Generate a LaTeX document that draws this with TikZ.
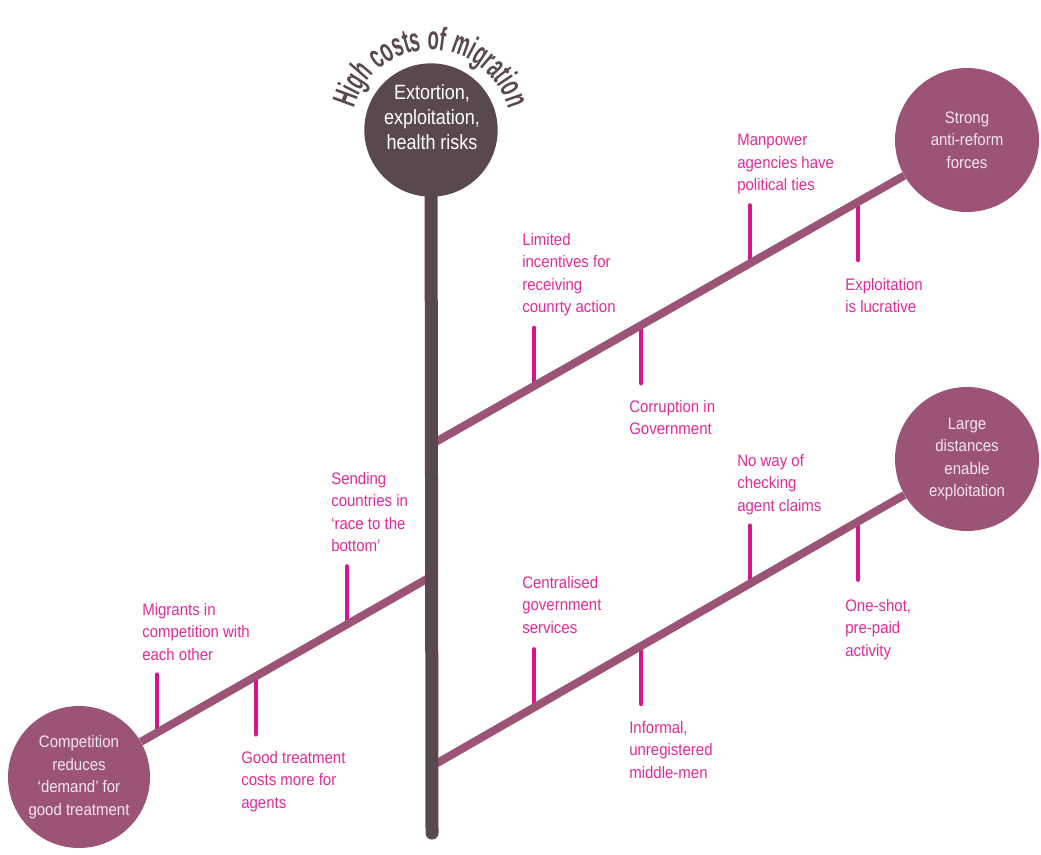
\documentclass[tikz,border=0pt]{standalone}
\usepackage{fontspec}
\setmainfont{Liberation Sans}[FakeStretch=0.9]
\newfontfamily\headfont{Liberation Sans}[FakeStretch=0.87]
\newfontfamily\arcfont{Liberation Sans}[FakeStretch=0.56]
\usetikzlibrary{positioning,calc,decorations.text}
\definecolor{spinec}{RGB}{90,72,80}
\definecolor{branchc}{RGB}{155,84,118}
\definecolor{tickc}{RGB}{214,22,138}
\definecolor{lblc}{RGB}{224,44,150}
\definecolor{causec}{RGB}{246,230,238}
\tikzstyle{head}=[circle, fill=spinec, minimum size=100pt, inner sep=0]
\tikzstyle{headtext}=[align=center, text=white, inner sep=0, font=\headfont\fontsize{15.5}{18.75}\selectfont]
\tikzstyle{cause}=[circle, fill=branchc, text=causec, align=center, inner sep=0, minimum size=108pt, font=\fontsize{12.5}{16.9}\selectfont]
\tikzstyle{lbl}=[anchor=north west, inner sep=0, align=left, text=lblc, font=\fontsize{12.5}{16.9}\selectfont]
\tikzstyle{spine}=[line width=9.75pt, draw=spinec, line cap=round]
\tikzstyle{branch}=[line width=6pt, draw=branchc]
\tikzstyle{tick}=[line width=3.4pt, draw=tickc, line cap=round]

\begin{document}
\begin{tikzpicture}[x=0.75pt,y=-0.75pt]
\useasboundingbox (0,0) rectangle (1041,854);

% effect and causes
\node[head] (hc) at (431,130) {};
\node[headtext] (ht) at (432,117) {Extortion,\\exploitation,\\health risks};
\node[cause] (anti) at (967,140) {Strong\\anti-reform\\forces};
\node[cause] (dist) at (967,459) {Large\\distances\\enable\\exploitation};
\node[cause, minimum size=106.5pt] (comp) at (79,777) {Competition\\reduces\\`demand' for\\good treatment};

\path[decorate, decoration={text along path, text align=center, text color=spinec,
  text={|\arcfont\bfseries\fontsize{25}{25}\selectfont|High costs of migration}}]
  ($(hc)+(185:80)$) arc[start angle=185, end angle=355, radius=80];

\coordinate (ua) at (432,444);
\coordinate (la) at (432,766);
\coordinate (ma) at (432,576);
\coordinate (sb) at (432,833);

% points on the bones
\coordinate (u1) at ($(ua)!0.191!(anti)$);
\coordinate (u2) at ($(ua)!0.391!(anti)$);
\coordinate (u3) at ($(ua)!0.594!(anti)$);
\coordinate (u4) at ($(ua)!0.796!(anti)$);
\coordinate (l1) at ($(la)!0.191!(dist)$);
\coordinate (l2) at ($(la)!0.391!(dist)$);
\coordinate (l3) at ($(la)!0.594!(dist)$);
\coordinate (l4) at ($(la)!0.796!(dist)$);
\coordinate (m1) at ($(ma)!0.241!(comp)$);
\coordinate (m2) at ($(ma)!0.499!(comp)$);
\coordinate (m3) at ($(ma)!0.779!(comp)$);

\coordinate (u1e) at ($(u1)+(0,-58)$);
\coordinate (u2e) at ($(u2)+(0,58)$);
\coordinate (u3e) at ($(u3)+(0,-58)$);
\coordinate (u4e) at ($(u4)+(0,58)$);
\coordinate (l1e) at ($(l1)+(0,-58)$);
\coordinate (l2e) at ($(l2)+(0,58)$);
\coordinate (l3e) at ($(l3)+(0,-58)$);
\coordinate (l4e) at ($(l4)+(0,58)$);
\coordinate (m1e) at ($(m1)+(0,-58)$);
\coordinate (m2e) at ($(m2)+(0,58)$);
\coordinate (m3e) at ($(m3)+(0,-58)$);

\draw[tick] (u1) -- (u1e);
\draw[tick] (u2) -- (u2e);
\draw[tick] (u3) -- (u3e);
\draw[tick] (u4) -- (u4e);
\draw[tick] (l1) -- (l1e);
\draw[tick] (l2) -- (l2e);
\draw[tick] (l3) -- (l3e);
\draw[tick] (l4) -- (l4e);
\draw[tick] (m1) -- (m1e);
\draw[tick] (m2) -- (m2e);
\draw[tick] (m3) -- (m3e);

\draw[branch] (ua) -- (anti);
\draw[branch] (la) -- (dist);
\draw[branch] (ma) -- (comp);
\draw[spine] (hc) -- (sb);

% labels
\node[lbl] (t1) at (522,233) {Limited\\incentives for\\receiving\\counrty action};
\node[lbl] (t2) at (629,400) {Corruption in\\Government};
\node[lbl] (t3) at (737,134) {Manpower\\agencies have\\political ties};
\node[lbl] (t4) at (845,278) {Exploitation\\is lucrative};
\node[lbl] (t5) at (522,576) {Centralised\\government\\services};
\node[lbl] (t6) at (629,721) {Informal,\\unregistered\\middle-men};
\node[lbl] (t7) at (737,454) {No way of\\checking\\agent claims};
\node[lbl] (t8) at (845,599) {One-shot,\\pre-paid\\activity};
\node[lbl] (t9) at (331,472) {Sending\\countries in\\`race to the\\bottom'};
\node[lbl] (t10) at (142,603) {Migrants in\\competition with\\each other};
\node[lbl] (t11) at (241,751) {Good treatment\\costs more for\\agents};

\end{tikzpicture}
\end{document}
